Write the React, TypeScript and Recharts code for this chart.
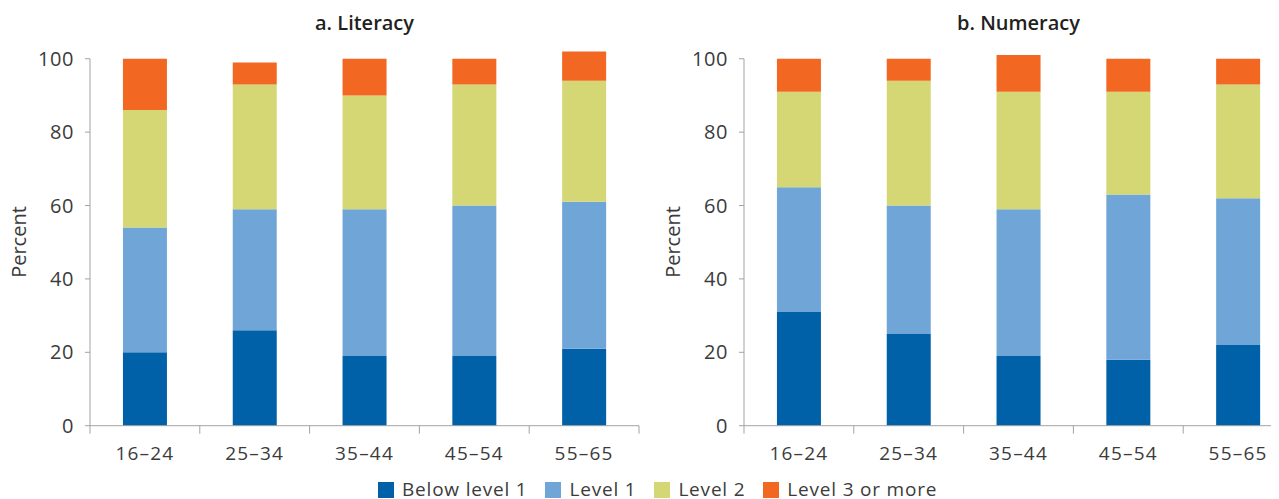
import React from 'react';
import { BarChart, Bar, XAxis, YAxis, ReferenceLine } from 'recharts';

// age groups and series
const ageGroups = ['16–24', '25–34', '35–44', '45–54', '55–65'];
const seriesNames = ['Below level 1', 'Level 1', 'Level 2', 'Level 3 or more'];
const seriesKeys = ['below1', 'level1', 'level2', 'level3'];
const seriesColors = ['#0060a8', '#70a6d7', '#d4d774', '#f26722'];
const yTicks = [0, 20, 40, 60, 80, 100];

// a. Literacy (percent)
const litBelow1 = [20, 26, 19, 19, 21];
const litLevel1 = [34, 33, 40, 41, 40];
const litLevel2 = [32, 34, 31, 33, 33];
const litLevel3 = [14, 6, 10, 7, 8];

// b. Numeracy (percent)
const numBelow1 = [31, 25, 19, 18, 22];
const numLevel1 = [34, 35, 40, 45, 40];
const numLevel2 = [26, 34, 32, 28, 31];
const numLevel3 = [9, 6, 10, 9, 7];

const AXIS = '#a3a3a3';
const TEXT = '#3b3b3b';
const FONT = '"Open Sans", sans-serif';

const buildRows = (cols: number[][]) =>
  ageGroups.map((age, i) => {
    const row: Record<string, string | number> = { age };
    seriesKeys.forEach((k, s) => (row[k] = cols[s][i]));
    return row;
  });

const literacyData = buildRows([litBelow1, litLevel1, litLevel2, litLevel3]);
const numeracyData = buildRows([numBelow1, numLevel1, numLevel2, numLevel3]);

// x tick: label in the middle, tick marks on category borders
function CategoryTick(props: any) {
  const { x, y, payload, index, visibleTicksCount } = props;
  const half = payload?.offset ?? 0;
  return (
    <g>
      <line x1={x - half} x2={x - half} y1={y} y2={y + 8} stroke={AXIS} />
      {index === visibleTicksCount - 1 && (
        <line x1={x + half} x2={x + half} y1={y} y2={y + 8} stroke={AXIS} />
      )}
      <text
        x={x}
        y={y + 27}
        textAnchor="middle"
        dominantBaseline="central"
        fill={TEXT}
        fontSize={19}
        fontFamily={FONT}
        letterSpacing={1.2}
      >
        {payload.value}
      </text>
    </g>
  );
}

function Panel({ title, data, left }: { title: string; data: any[]; left: number }) {
  return (
    <div style={{ position: 'absolute', left, top: 0, width: 640, height: 470 }}>
      <div
        style={{
          position: 'absolute',
          left: 90,
          width: 549,
          top: 9,
          textAlign: 'center',
          fontSize: 20,
          fontWeight: 600,
          color: '#231f20',
        }}
      >
        {title}
      </div>
      <div
        style={{
          position: 'absolute',
          left: 18,
          top: 242,
          transform: 'translate(-50%, -50%) rotate(-90deg)',
          fontSize: 20,
          color: TEXT,
          whiteSpace: 'nowrap',
        }}
      >
        Percent
      </div>
      <BarChart
        width={640}
        height={470}
        data={data}
        margin={{ top: 51.4, right: 1, left: 30, bottom: 0 }}
        barCategoryGap="30%"
      >
        <XAxis
          dataKey="age"
          height={44.3}
          axisLine={{ stroke: AXIS }}
          tickLine={false}
          tickSize={0}
          tickMargin={0}
          tick={<CategoryTick />}
          interval={0}
        />
        <YAxis
          width={60}
          domain={[0, 102]}
          ticks={yTicks}
          axisLine={false}
          tickSize={5}
          tickMargin={11}
          tickLine={{ stroke: AXIS }}
          tick={{ fill: TEXT, fontSize: 20, fontFamily: FONT, letterSpacing: 0.6 }}
        />
        {seriesKeys.map((k, s) => (
          <Bar key={k} dataKey={k} stackId="a" fill={seriesColors[s]} isAnimationActive={false} />
        ))}
        <ReferenceLine
          segment={[
            { x: ageGroups[0], y: 0 },
            { x: ageGroups[0], y: 100 },
          ]}
          position="start"
          stroke={AXIS}
        />
      </BarChart>
    </div>
  );
}

export default function App() {
  // height 507 with -8 margins leaves a 499px tall page
  return (
    <div
      style={{
        position: 'relative',
        width: 1279,
        height: 507,
        margin: -8,
        overflow: 'hidden',
        background: '#fff',
        fontFamily: FONT,
      }}
    >
      <Panel title="a. Literacy" data={literacyData} left={0} />
      <Panel title="b. Numeracy" data={numeracyData} left={654} />
      <div
        style={{
          position: 'absolute',
          top: 481,
          left: 378,
          height: 17,
          lineHeight: '17px',
          display: 'flex',
          alignItems: 'center',
          fontSize: 19,
          letterSpacing: 0.8,
          color: TEXT,
          whiteSpace: 'nowrap',
        }}
      >
        {seriesNames.map((name, s) => (
          <div key={name} style={{ display: 'flex', alignItems: 'center', marginRight: 18 }}>
            <span
              style={{ width: 16, height: 16, background: seriesColors[s], marginRight: 8, display: 'inline-block' }}
            />
            <span>{name}</span>
          </div>
        ))}
      </div>
    </div>
  );
}
